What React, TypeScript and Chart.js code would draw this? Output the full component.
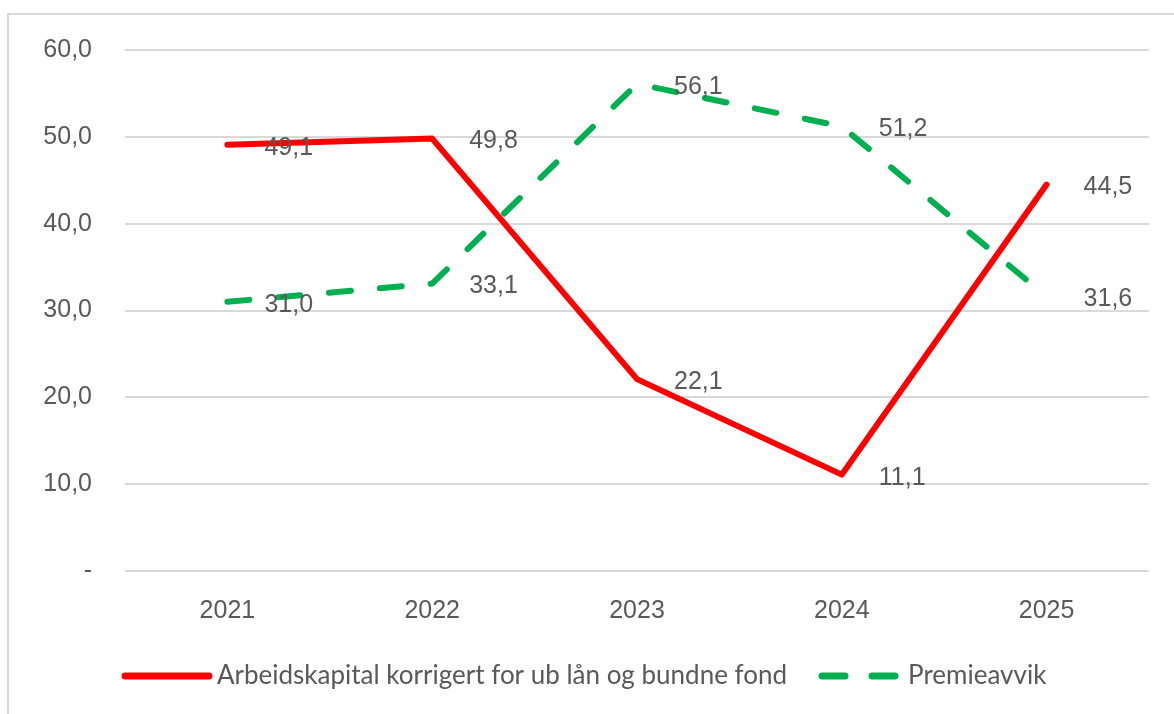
import React, { useEffect, useRef } from "react";
import { Chart, registerables } from "chart.js";

Chart.register(...registerables);

const years = ["2021", "2022", "2023", "2024", "2025"];
const arbeidskapital = [49.1, 49.8, 22.1, 11.1, 44.5];
const premieavvik = [31.0, 33.1, 56.1, 51.2, 31.6];
const seriesNames = ["Arbeidskapital korrigert for ub lån og bundne fond", "Premieavvik"];
const seriesColors = ["#FF0000", "#00B050"];

const TEXT = "#595959";
const FONT = "'Liberation Sans', Arial, sans-serif";
const LEGEND_FONT = "Lato, 'Open Sans', sans-serif";

const fmt = (v: number) => (v === 0 ? "-" : v.toFixed(1).replace(".", ","));

const dataLabels = {
  id: "dataLabels",
  afterDatasetsDraw(chart: any) {
    const ctx = chart.ctx;
    ctx.save();
    ctx.font = `25px ${FONT}`;
    ctx.fillStyle = TEXT;
    ctx.textAlign = "left";
    ctx.textBaseline = "middle";
    chart.data.datasets.forEach((ds: any, i: number) => {
      const meta = chart.getDatasetMeta(i);
      meta.data.forEach((pt: any, j: number) => {
        ctx.fillText(fmt(ds.data[j]), pt.x + 37, pt.y + 3);
      });
    });
    ctx.restore();
  },
};

const customLegend = {
  id: "customLegend",
  afterDraw(chart: any) {
    const ctx = chart.ctx;
    const y = 661;
    ctx.save();
    ctx.font = `26px ${LEGEND_FONT}`;
    ctx.textBaseline = "middle";
    ctx.textAlign = "left";
    let x = 113;
    ctx.strokeStyle = seriesColors[0];
    ctx.lineWidth = 7;
    ctx.lineCap = "round";
    ctx.setLineDash([]);
    ctx.beginPath();
    ctx.moveTo(x + 3, y);
    ctx.lineTo(x + 87, y);
    ctx.stroke();
    ctx.fillStyle = TEXT;
    ctx.fillText(seriesNames[0], x + 95, y);
    x = x + 95 + ctx.measureText(seriesNames[0]).width + 32;
    ctx.strokeStyle = seriesColors[1];
    ctx.beginPath();
    ctx.moveTo(x + 3, y);
    ctx.lineTo(x + 26, y);
    ctx.moveTo(x + 53, y);
    ctx.lineTo(x + 76, y);
    ctx.stroke();
    ctx.fillText(seriesNames[1], x + 89, y);
    ctx.restore();
  },
};

export default function App() {
  const ref = useRef<HTMLCanvasElement>(null);
  useEffect(() => {
    if (!ref.current) return;
    const chart = new Chart(ref.current, {
      type: "line",
      data: {
        labels: years,
        datasets: [
          {
            label: seriesNames[0],
            data: arbeidskapital,
            borderColor: seriesColors[0],
            backgroundColor: seriesColors[0],
            borderWidth: 6,
            pointRadius: 0,
            tension: 0,
            borderCapStyle: "round",
            borderJoinStyle: "round",
          },
          {
            label: seriesNames[1],
            data: premieavvik,
            borderColor: seriesColors[1],
            backgroundColor: seriesColors[1],
            borderWidth: 6,
            borderDash: [22, 29],
            pointRadius: 0,
            tension: 0,
            borderCapStyle: "round",
            borderJoinStyle: "round",
          },
        ],
      },
      options: {
        animation: false,
        responsive: false,
        maintainAspectRatio: false,
        layout: { padding: { top: 35, right: 25, left: 0, bottom: 0 } },
        plugins: {
          legend: { display: false },
          tooltip: { enabled: false },
        },
        scales: {
          x: {
            offset: true,
            grid: { display: false, drawTicks: false },
            border: { display: false },
            ticks: { color: TEXT, font: { family: FONT, size: 25 }, padding: 25 },
            afterFit: (s: any) => {
              s.height = 143;
              s.paddingLeft = 0;
              s.paddingRight = 0;
            },
          },
          y: {
            min: 0,
            max: 60,
            grid: { color: "#d9d9d9", lineWidth: 2, drawTicks: false },
            border: { display: false },
            ticks: {
              stepSize: 10,
              color: TEXT,
              font: { family: FONT, size: 25 },
              padding: 33,
              callback: (v: any) => fmt(Number(v)),
            },
            afterFit: (s: any) => {
              s.width = 116;
              s.paddingTop = 0;
              s.paddingBottom = 0;
            },
          },
        },
      },
      plugins: [dataLabels, customLegend],
    });
    return () => chart.destroy();
  }, []);
  return (
    <div
      style={{
        position: "absolute",
        left: 7,
        top: 13,
        width: 1167,
        height: 701,
        boxSizing: "border-box",
        borderLeft: "2px solid #d9d9d9",
        borderTop: "2px solid #d9d9d9",
        background: "#fff",
      }}
    >
      <canvas ref={ref} width={1165} height={699} style={{ display: "block" }} />
    </div>
  );
}
